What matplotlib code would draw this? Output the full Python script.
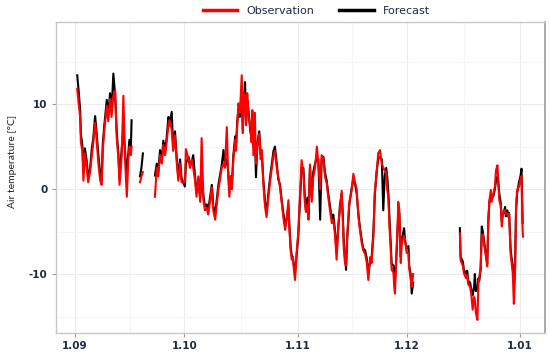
import numpy as np
import pandas as pd
import matplotlib
matplotlib.use("Agg")
import matplotlib.pyplot as plt
import matplotlib.dates as mdates
from matplotlib.ticker import FixedLocator, FuncFormatter

# ---- data (days since 1 Sep, observed and forecast air temperature, degC) ----
days = [0.6, 1.0, 1.4, 1.6, 2.0, 2.3, 2.7, 3.2, 3.6, 4.1, 4.6, 5.0, 5.5, 5.8, 6.4, 6.9,
        7.3, 7.6, 8.0, 8.7, 9.1, 9.6, 10.0, 10.5, 11.0, 11.4, 11.9, 12.2, 12.8, 13.25,
        13.7, 14.2, 14.6, 14.9, 15.3, 15.5,
        16.5,
        17.8, 18.2, 18.6,
        19.5,
        21.9, 22.4, 22.8, 23.3, 23.8, 24.2, 24.7, 25.1, 25.6, 25.9, 26.5, 26.9, 27.4,
        27.9, 28.3, 28.8, 29.2, 30.1, 30.4, 31.1, 31.5, 32.0, 32.4, 32.9, 33.3, 33.8,
        34.3, 34.7, 35.2, 35.6, 36.1, 36.5, 37.0, 37.5, 37.9, 38.4, 39.3, 39.7, 40.2,
        40.7, 41.1, 41.6, 42.0, 42.3, 42.7, 43.0, 43.4, 43.9, 44.1, 44.5, 44.8, 45.2,
        45.7, 46.0, 46.3, 46.6, 46.9, 47.2, 47.5, 48.0, 48.4, 48.6, 48.9, 49.3, 49.6,
        50.0, 50.5, 50.9, 51.2, 51.6, 52.1, 52.5, 53.0, 53.5, 54.4, 54.8, 55.3, 55.7,
        56.2, 56.7, 57.1, 57.6, 58.0, 58.5, 58.7, 59.1, 59.4, 59.7, 60.0, 60.3, 60.8,
        61.2, 61.7, 62.1, 62.6, 63.0, 63.3, 63.7, 64.0, 64.4, 64.9, 65.3, 65.8, 66.3,
        66.7, 67.2, 67.6, 68.1, 68.5, 69.0, 69.4, 69.9, 70.4, 70.8, 71.3, 71.7, 72.2,
        72.6, 73.1, 73.4, 73.7, 74.0, 74.3, 74.6, 75.2, 75.8, 76.3, 76.8, 77.2, 77.7,
        78.1, 78.6, 79.0, 79.5, 80.0, 80.4, 80.9, 81.3, 81.8, 82.2, 82.7, 83.1, 83.6,
        84.1, 84.5, 84.9, 85.3, 85.6, 85.9, 86.2, 86.5, 86.8, 87.3, 87.5, 87.7, 88.0,
        88.2, 88.5, 88.6, 88.9, 89.3, 89.5, 89.8, 90.2, 90.5, 90.9, 91.4, 91.6, 92.0,
        92.3, 92.7,
        94.0,
        105.5, 105.7, 106.3, 106.6, 107.2, 107.5, 107.8, 108.3, 108.7, 109.0, 109.4,
        109.6, 109.9, 110.3, 110.6, 110.8, 111.2, 111.5, 111.8, 112.1, 112.4, 112.7,
        113.0, 113.3, 113.6, 114.0, 114.2, 114.7, 115.1, 115.4, 115.8, 116.0, 116.3,
        116.7, 117.0, 117.2, 117.5, 117.9, 118.1, 118.5, 118.8, 119.0, 119.4, 119.7,
        120.0, 120.3, 120.6, 120.9, 121.2, 121.7, 122.1, 122.4, 122.7, 122.8]

observation = [11.8, 10.0, 8.5, 5.5, 4.5, 1.0, 4.2, 2.5, 0.8, 2.0, 4.0, 5.5, 7.8, 6.5, 3.0, 1.0,
               0.5, 4.5, 6.8, 9.8, 8.0, 10.6, 8.5, 11.0, 11.6, 6.2, 3.5, 0.5, 4.0, 11.0,
               3.5, -0.9, 3.5, 5.0, 4.0, 5.0,
               np.nan,
               0.8, 1.5, 2.0,
               np.nan,
               -0.9, 2.5, 1.5, 4.0, 3.0, 5.2, 4.0, 5.5, 7.5, 8.1, 7.0, 4.5, 6.3,
               3.0, 1.0, 3.0, 0.8, 0.8, 4.7, 3.5, 2.5, 3.5, 2.5, 1.0, -0.9, 1.5,
               -1.5, 6.0, -1.3, -2.5, -2.2, -3.0, -1.5, 0.2, -2.5, -3.6, 0.0, 1.0, 2.5,
               3.0, 2.5, 7.3, 1.5, -0.9, 1.5, 0.0, 3.5, 5.8, 4.5, 7.8, 10.1, 9.0,
               13.4, 6.6, 11.3, 11.0, 7.5, 11.3, 9.0, 7.5, 5.5, 9.3, 4.0, 9.0, 3.0,
               5.0, 6.5, 3.5, 4.6, 0.7, -2.1, -3.3, -1.0, 1.0, 4.0, 4.5, 2.5, 1.5,
               0.2, -1.8, -3.3, -4.8, -3.6, -1.3, -4.2, -7.2, -8.3, -8.0, -9.5, -10.7, -7.2,
               -5.1, -0.4, 3.4, 2.0, -1.5, -2.7, -1.9, -3.6, 2.9, -1.5, 1.4, 2.5, 5.0,
               3.0, 0.0, 4.0, 3.5, 1.5, 0.7, -0.9, -2.5, -4.0, -3.6, -5.5, -8.3, -4.0,
               -2.5, -0.2, -3.6, -7.2, -8.7, -9.0, -5.5, -1.5, -0.2, 1.8, 0.7, 0.0, -3.3,
               -4.8, -6.4, -7.2, -7.6, -8.7, -10.7, -8.0, -8.7, -5.5, -0.2, 1.8, 4.2, 4.6,
               3.0, 2.5, 2.2, 2.0, -0.1, -1.0, -4.4, -6.8, -9.5, -9.8, -11.5, -12.3, -9.0,
               -7.0, -3.3, -1.5, -2.5, -8.7, -6.7, -6.0, -5.5, -6.0, -7.5, -7.5, -9.3, -10.5,
               -11.5, -10.0,
               np.nan,
               -5.2, -8.4, -9.0, -9.9, -10.5, -10.1, -11.2, -11.5, -12.7, -14.2, -12.7,
               -13.0, -14.6, -15.4, -11.0, -10.5, -9.1, -5.5, -5.3, -6.4, -7.2, -8.1,
               -9.1, -3.5, -1.3, -0.1, -1.5, -0.5, 0.3, 2.2, 2.8, 1.2, -1.3,
               -2.0, -4.4, -3.3, -2.5, -2.5, -2.9, -2.9, -3.3, -2.9, -7.6, -8.7,
               -9.9, -13.5, -10.4, -2.1, -0.1, 0.3, 1.1, 1.5, -4.8, -5.6]

forecast = [13.4, 11.5, 9.3, 6.5, 5.2, 2.0, 4.8, 3.3, 1.5, 2.3, 4.8, 6.0, 8.6, 7.2, 4.0, 1.8,
            1.0, 5.3, 7.4, 10.5, 8.8, 11.3, 9.0, 13.6, 11.0, 7.0, 4.0, 1.2, 4.8, 7.0,
            4.5, 1.5, 4.2, 5.8, 4.8, 8.1,
            np.nan,
            1.5, 2.5, 4.2,
            np.nan,
            1.6, 3.0, 2.0, 4.6, 3.5, 5.7, 4.6, 6.0, 8.5, 7.5, 9.1, 5.0, 6.8,
            3.5, 1.5, 3.5, 1.3, 0.3, 3.0, 3.8, 3.0, 3.2, 4.0, 1.5, -0.3, 1.0,
            -1.0, 1.0, -0.8, -2.0, -1.8, -2.5, -1.0, 0.5, -2.0, -3.0, 0.5, 1.5, 2.8,
            4.6, 2.8, 3.5, 2.0, 0.0, 1.5, 0.5, 4.0, 6.2, 5.0, 8.1, 9.5, 8.5,
            11.0, 7.0, 10.5, 12.6, 8.0, 10.5, 9.5, 7.0, 6.0, 7.0, 5.0, 6.5, 1.4,
            5.5, 6.8, 4.0, 4.2, 1.2, -1.6, -2.8, -0.5, 1.5, 4.5, 5.0, 3.0, 1.2,
            0.5, -1.5, -2.8, -4.2, -3.6, -2.0, -3.8, -6.8, -7.8, -8.0, -9.0, -10.0, -7.5,
            -5.5, -1.0, 2.5, 2.5, -1.0, -2.5, -1.0, -3.0, 2.5, -1.0, 2.0, 3.0, 3.8,
            3.5, -3.6, 3.5, 3.8, 2.0, 1.0, -0.5, -2.0, -3.5, -3.0, -5.0, -7.5, -4.5,
            -2.0, -0.5, -3.0, -6.5, -8.0, -9.5, -6.0, -1.8, 0.0, 1.2, 0.5, -0.5, -3.0,
            -4.5, -6.0, -7.0, -7.2, -8.2, -10.0, -8.5, -8.2, -5.0, -0.5, 2.2, 3.5, 3.8,
            3.5, -2.5, 1.5, 2.5, 1.4, -0.5, -3.5, -6.0, -8.8, -9.0, -10.5, -11.0, -8.5,
            -7.0, -4.0, -3.0, -2.8, -8.0, -6.0, -5.5, -4.6, -6.2, -7.0, -6.7, -9.0, -10.0,
            -12.3, -11.0,
            np.nan,
            -4.6, -8.0, -8.5, -9.5, -10.0, -9.6, -10.8, -11.0, -12.0, -12.5, -11.5,
            -10.0, -12.0, -11.8, -10.5, -10.8, -9.5, -4.4, -5.0, -6.0, -7.0, -7.8,
            -8.8, -3.8, -1.5, -0.8, -1.0, -0.8, 0.0, 1.0, 1.5, 1.0, -0.5,
            -1.6, -3.8, -3.0, -2.8, -2.1, -3.2, -2.5, -3.0, -2.8, -7.0, -8.2,
            -9.0, -10.5, -9.8, -2.5, -0.5, 0.8, 1.5, 2.4, -4.0, np.nan]

start_date = "2019-09-01"
tick_labels = ["1.09", "1.10", "1.11", "1.12", "1.01"]
y_ticks = [-10, 0, 10]
series_names = ["Observation", "Forecast"]
series_colors = ["#ff0000", "#000000"]

# ---- build time axis ----
base = pd.Timestamp(start_date)
times = base + pd.to_timedelta(days, unit="D")
obs = np.array(observation, dtype=float)
fc = np.array(forecast, dtype=float)

fig = plt.figure(figsize=(5.5, 3.57), dpi=100)
ax = fig.add_axes([0.1013, 0.0672, 0.8887, 0.8718])

month_starts = pd.date_range(base, periods=len(tick_labels), freq="MS")
mid_months = month_starts[:-1] + (month_starts[1:] - month_starts[:-1]) / 2

# grid
for t in month_starts:
    ax.axvline(t, color="#ececec", lw=0.8, zorder=0)
for t in mid_months:
    ax.axvline(t, color="#f5f5f5", lw=0.8, zorder=0)
for v in y_ticks:
    ax.axhline(v, color="#ececec", lw=0.8, zorder=0)
for v in [-15, -5, 5, 15]:
    ax.axhline(v, color="#f5f5f5", lw=0.8, zorder=0)

l_fc, = ax.plot(times, fc, color=series_colors[1], lw=1.5, zorder=2)
l_obs, = ax.plot(times, obs, color=series_colors[0], lw=1.5, zorder=3)

ax.set_xlim(base - pd.Timedelta(days=5.3), base + pd.Timedelta(days=128.7))
ax.set_ylim(-16.94, 19.7)

ax.xaxis.set_major_locator(FixedLocator(mdates.date2num(month_starts)))
ax.xaxis.set_major_formatter(FuncFormatter(lambda x, pos: tick_labels[pos] if pos is not None and pos < len(tick_labels) else ""))
ax.set_yticks(y_ticks)
ax.set_yticklabels([str(v) for v in y_ticks])

tick_color = "#1f2a44"
ax.tick_params(axis="both", which="major", length=3, width=0.8, color="#999999",
               labelsize=7.5, labelcolor=tick_color, pad=3)
for lab in ax.get_xticklabels() + ax.get_yticklabels():
    lab.set_fontweight("bold")

for s in ["left", "bottom", "top"]:
    ax.spines[s].set_color("#c8c8c8")
    ax.spines[s].set_linewidth(1.0)
ax.spines["right"].set_color("#aaaaaa")
ax.spines["right"].set_linewidth(1.4)

ax.set_ylabel("Air temperature [°C]", fontsize=7.5, color="#222222",
              family=["Lato", "DejaVu Sans"])
ax.yaxis.set_label_coords(-0.08, 0.55)

leg = fig.legend([l_obs, l_fc], series_names, loc="center", bbox_to_anchor=(0.575, 0.969),
                 ncol=2, frameon=False, handlelength=3.1, handletextpad=0.8,
                 columnspacing=2.3, fontsize=8)
for h in leg.legend_handles:
    h.set_linewidth(2.5)
for t in leg.get_texts():
    t.set_color(tick_color)

fig.savefig("out.png", dpi=100)
